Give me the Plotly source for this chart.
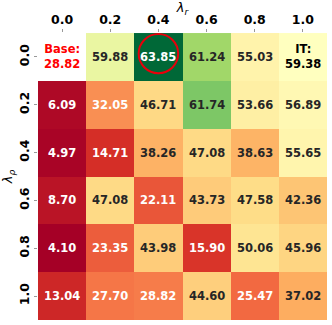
import numpy as np
import plotly.graph_objects as go
from plotly.colors import diverging

# ------------------------------------------------------------------
# Data
# ------------------------------------------------------------------
lambda_r = ['0.0', '0.2', '0.4', '0.6', '0.8', '1.0']
lambda_rho = ['0.0', '0.2', '0.4', '0.6', '0.8', '1.0']

row_00 = [None, 59.88, 63.85, 61.24, 55.03, 59.38]
row_02 = [6.09, 32.05, 46.71, 61.74, 53.66, 56.89]
row_04 = [4.97, 14.71, 38.26, 47.08, 38.63, 55.65]
row_06 = [8.70, 47.08, 22.11, 43.73, 47.58, 42.36]
row_08 = [4.10, 23.35, 43.98, 15.90, 50.06, 45.96]
row_10 = [13.04, 27.70, 28.82, 44.60, 25.47, 37.02]

base_score = 28.82
it_score = 59.38

z = np.array([row_00, row_02, row_04, row_06, row_08, row_10], dtype=float)

# ------------------------------------------------------------------
# Colour scale: RdYlGn, centred on the IT score (two-slope norm)
# ------------------------------------------------------------------
vmin, vmax = np.nanmin(z), np.nanmax(z)
center = (it_score - vmin) / (vmax - vmin)
rdylgn = diverging.RdYlGn
n = len(rdylgn)
stops = []
for i, c in enumerate(rdylgn):
    t = i / (n - 1)
    if t <= 0.5:
        p = t / 0.5 * center
    else:
        p = center + (t - 0.5) / 0.5 * (1 - center)
    stops.append([p, c])


def to_rgb(c):
    c = c.strip()
    if c.startswith('#'):
        return [int(c[k:k + 2], 16) for k in (1, 3, 5)]
    return [float(v) for v in c[c.index('(') + 1:-1].split(',')[:3]]


def value_color(v):
    t = (v - vmin) / (vmax - vmin)
    for (p0, c0), (p1, c1) in zip(stops[:-1], stops[1:]):
        if p0 <= t <= p1:
            f = 0 if p1 == p0 else (t - p0) / (p1 - p0)
            a, b = to_rgb(c0), to_rgb(c1)
            return [a[k] + f * (b[k] - a[k]) for k in range(3)]
    return to_rgb(stops[-1][1])


def luminance(rgb):
    out = []
    for v in rgb:
        v = v / 255
        out.append(v / 12.92 if v <= 0.03928 else ((v + 0.055) / 1.055) ** 2.4)
    return 0.2126 * out[0] + 0.7152 * out[1] + 0.0722 * out[2]


# ------------------------------------------------------------------
# Figure
# ------------------------------------------------------------------
xs = list(range(len(lambda_r)))
ys = list(range(len(lambda_rho)))

fig = go.Figure(go.Heatmap(
    z=z, x=xs, y=ys,
    colorscale=stops, zmin=vmin, zmax=vmax,
    showscale=False, hoverongaps=False,
))

font = 'DejaVu Sans'
cell_size = 11.5
for i in ys:
    for j in xs:
        v = z[i, j]
        if i == 0 and j == 0:
            fig.add_annotation(x=j, y=i, text=f'<b>Base:<br>{base_score:.2f}</b>',
                               showarrow=False, font=dict(family=font, size=cell_size, color='red'))
            continue
        if i == 0 and j == len(xs) - 1:
            fig.add_annotation(x=j, y=i, text=f'<b>IT:<br>{it_score:.2f}</b>',
                               showarrow=False, font=dict(family=font, size=cell_size, color='black'))
            continue
        col = '#262626' if luminance(value_color(v)) > 0.408 else 'white'
        fig.add_annotation(x=j, y=i, text=f'<b>{v:.2f}</b>', showarrow=False,
                           font=dict(family=font, size=cell_size, color=col))

# circle around the best cell
bi, bj = np.unravel_index(np.nanargmax(z), z.shape)
r = 0.41
fig.add_shape(type='circle', xref='x', yref='y',
              x0=bj - r, x1=bj + r, y0=bi - 0.07 - r, y1=bi - 0.07 + r,
              line=dict(color='#e8000b', width=2))

fig.update_xaxes(
    side='top', tickvals=xs, ticktext=lambda_r, automargin=False,
    ticks='outside', ticklen=3, tickcolor='#999', showgrid=False, zeroline=False,
    tickfont=dict(family=font, size=12.5, color='black', weight='bold'),
    title=dict(text='<i>λ<sub>r</sub></i>', font=dict(family=font, size=13, color='black'),
               standoff=0),
    range=[-0.5, 5.5],
)
fig.update_yaxes(
    autorange='reversed', tickvals=ys, ticktext=lambda_rho, tickangle=-90,
    automargin=False,
    ticks='outside', ticklen=3, tickcolor='#999', showgrid=False, zeroline=False,
    tickfont=dict(family=font, size=12.5, color='black', weight='bold'),
    title=dict(text='<i>λ<sub>ρ</sub></i>', font=dict(family=font, size=13, color='black'),
               standoff=2),
)
fig.update_layout(
    width=332, height=325,
    margin=dict(l=38, r=5, t=33, b=5),
    paper_bgcolor='white', plot_bgcolor='white',
)

fig.write_html('out.html', config={'displayModeBar': False},
               post_script="document.body.style.margin='0';")
